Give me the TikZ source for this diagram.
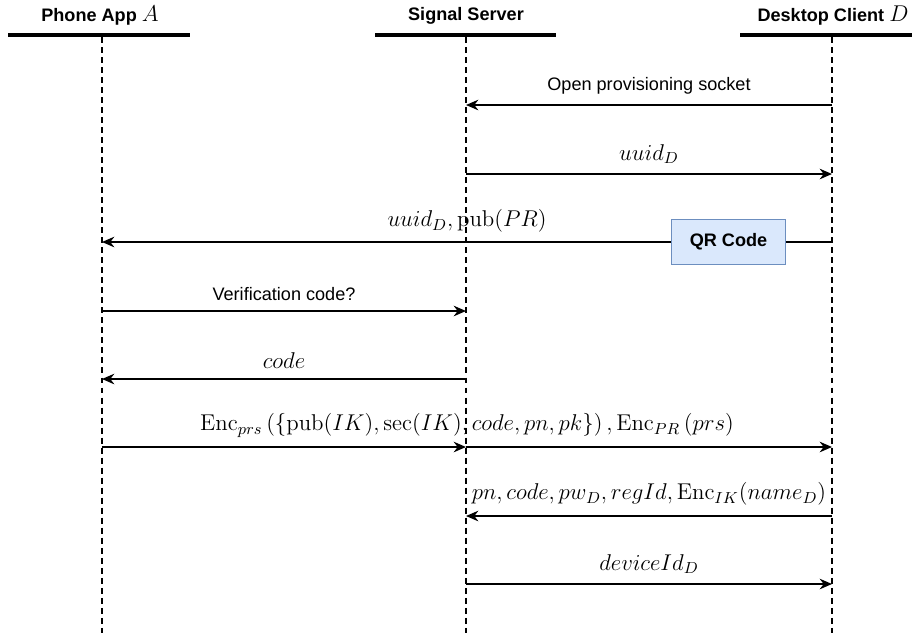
\RequirePackage{fix-cm}
\documentclass[tikz,border=0pt]{standalone}
\usepackage{amsmath}
\usepackage{fontspec}
\setsansfont{Liberation Sans}
\usepackage{tikz}
\usetikzlibrary{arrows.meta,calc,positioning}

\definecolor{qrfill}{HTML}{DAE8FC}
\definecolor{qrdraw}{HTML}{6C8EBF}

\newcommand{\partyvar}[1]{{\fontsize{13}{14}\selectfont$#1$}}

\tikzset{
	head/.style = {font=\sffamily\bfseries\fontsize{10.3}{12}\selectfont},
	bar/.style = {line width=2.3pt},
	life/.style = {line width=1.1pt, dash pattern=on 3.4pt off 2.3pt},
	msg/.style = {line width=1.1pt, -{Stealth[length=7pt,width=6pt]}},
	wire/.style = {line width=1.1pt},
	txt/.style = {font=\sffamily\fontsize{10.3}{12}\selectfont, above=2pt},
	mth/.style = {font=\fontsize{13}{15}\selectfont, above=2pt},
	qrbox/.style = {draw=qrdraw, fill=qrfill, line width=1pt,
		minimum width=65pt, minimum height=25.5pt,
		font=\sffamily\bfseries\fontsize{10.3}{12}\selectfont}
}

\begin{document}
\begin{tikzpicture}[x=0.02cm, y=-0.02cm]
		\useasboundingbox (0,0) rectangle (912,633);
		
		% participants
		\node[head] (hA) at (100,16) {Phone App \partyvar{A}};
		\node[head] (hS) at (466,16) {Signal Server};
		\node[head] (hD) at (833,16) {Desktop Client \partyvar{D}};
		\draw[bar] (8,35) -- (190,35);
		\draw[bar] (375,35) -- (556,35);
		\draw[bar] (740,35) -- (912,35);
		
		% lifelines
		\coordinate (A) at (102,37);
		\coordinate (S) at (466,37);
		\coordinate (D) at (832,37);
		\draw[life] (A) -- (102,633);
		\draw[life] (S) -- (466,633);
		\draw[life] (D) -- (832,633);
		
		% message rows
		\foreach \n/\y in {1/105,2/174,3/242,4/311,5/379,6/447,7/516,8/584} {
			\coordinate (A\n) at (102,\y);
			\coordinate (S\n) at (466,\y);
			\coordinate (D\n) at (832,\y);
		}
		
		\draw[msg] (D1) -- node[txt] {Open provisioning socket} (S1);
		\draw[msg] (S2) -- node[mth] {$uuid_D$} (D2);
		
		\node[qrbox] (qr) at (728.5,242) {QR Code};
		\draw[wire] (D3) -- (qr);
		\draw[msg] (qr) -- (A3);
		\path (A3) -- node[mth] {$uuid_D, \mathrm{pub}(PR)$} (D3);
		
		\draw[msg] (A4) -- node[txt] {Verification code?} (S4);
		\draw[msg] (S5) -- node[mth] {$code$} (A5);
		
		\draw[msg] (A6) -- (S6);
		\draw[msg] (S6) -- (D6);
		\path (A6) -- node[mth] {$\mathrm{Enc}_{prs}\left(\{\mathrm{pub}(IK), \mathrm{sec}(IK), code, pn, pk\}\right), \mathrm{Enc}_{PR}\left(prs\right)$} (D6);
		
		\draw[msg] (D7) -- node[mth] {$pn, code, pw_D, regId, \mathrm{Enc}_{IK}(name_D)$} (S7);
		\draw[msg] (S8) -- node[mth] {$deviceId_D$} (D8);
		\end{tikzpicture}
\end{document}
